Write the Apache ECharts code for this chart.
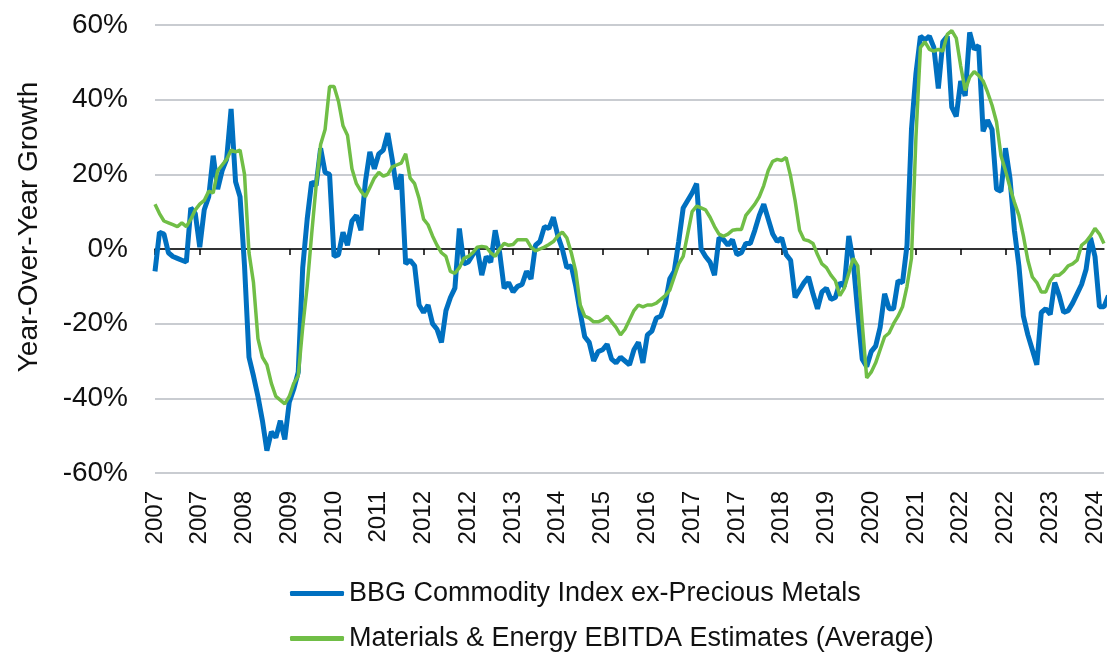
<!DOCTYPE html>
<html>
<head>
    <meta charset="utf-8">
    <title>Commodity Index vs EBITDA Estimates</title>
    <style>
        html, body { margin: 0; padding: 0; background: #fff; }
        #chart { width: 1107px; height: 654px; }
    </style>
</head>
<body>
<div id="chart"></div>
<script src="https://cdn.jsdelivr.net/npm/echarts@6/dist/echarts.min.js"></script>
<script>
    // monthly, Jan 2007 .. Sep 2024
    var startYear = 2007, monthCount = 213;
    var months = [];
    for (var i = 0; i < monthCount; i++) {
        var y = startYear + Math.floor(i / 12), m = i % 12 + 1;
        months.push(y + '-' + (m < 10 ? '0' + m : m));
    }

    var seriesNames = ['BBG Commodity Index ex-Precious Metals', 'Materials & Energy EBITDA Estimates (Average)'];

    // YoY growth, %
    var bbgCommodity = [
        -6, 4.5, 4, -1, -2, -2.5, -3, -3.5, 11, 9.5, 0.5, 10.5,
        14, 25, 16, 21, 24, 37.5, 18, 14, -4.5, -29, -34, -39.5,
        -46, -54, -49, -50.5, -46, -51, -41, -37.5, -33, -5, 8, 18,
        17, 27, 20.5, 20, -2, -1.5, 4.5, 1, 7.5, 9, 5, 18,
        26, 21.5, 25.5, 26.5, 31, 24, 16, 20, -4, -3, -4.5, -15,
        -17, -15, -20, -21.5, -25, -16.5, -13, -10.5, 5.5, -4, -3.5, -1.5,
        0, -7, -2, -3.5, 5, -1, -10.5, -9, -11.5, -10, -9.5, -6,
        -8, 1, 2, 6, 5.5, 8.5, 3.5, 0, -5, -4.5, -10, -17,
        -23.5, -25, -30, -27.5, -27, -25.5, -29.5, -30.5, -29, -30, -31, -27,
        -25, -30.5, -23, -22, -18.5, -18, -14.5, -8, -6, 2, 11, 13,
        15, 17.5, 0, -2, -3.5, -7, 3, 2.5, 1, 2.5, -1.5, -1,
        1.5, 1.5, 5, 9, 12, 8, 4, 2, 3, -1.5, -3, -13,
        -11, -9, -7.5, -12, -16, -11.5, -10.5, -13.5, -13, -9, -10, 3.5,
        -3.5, -17, -29.5, -31.5, -27.5, -26, -21, -12, -16, -16, -8.5, -9,
        1, 32, 47, 57, 56, 57, 54, 43, 55.5, 57, 38, 35.5,
        45, 41, 58, 53.5, 54.5, 31.5, 34.5, 32, 16, 15.5, 27, 19,
        5, -4.5, -18, -23, -27, -31, -17, -16, -17.5, -9, -12.5, -17,
        -16.5, -14.5, -12, -9.5, -5.5, 3, -2, -15.5, -15.5, -12.5
    ];

    var ebitdaEstimates = [
        12, 9.5, 7.5, 7, 6.5, 6, 7, 6, 8, 10.5, 12, 13,
        15.5, 15, 21, 22.5, 24, 26.5, 26, 26.5, 20, -1, -9, -24,
        -29, -31, -36, -39.5, -40.5, -41.5, -39.5, -36, -34, -21, -10, 4,
        17, 28, 32, 43.5, 43.5, 39.5, 33, 30.5, 21.5, 17.5, 15.5, 14,
        16.5, 19, 20.5, 19.5, 20, 22, 22.5, 23, 25.5, 19, 17.5, 13.5,
        8, 6.5, 3.5, 1, -1, -2, -6, -6.5, -5, -2.5, -2, -1,
        0.5, 0.7, 0.5, -1, -2, 0, 1.5, 1, 1.2, 2.5, 2.5, 2.5,
        0.5, -0.5, 0, 0.5, 1.2, 2, 3.5, 4.5, 3, -1, -6, -15,
        -18, -18.5, -19.5, -19.5, -19, -18, -19.5, -21, -23, -21.5, -19, -16.5,
        -15, -15.5, -15, -15, -14.5, -13.5, -12.5, -11, -7.5, -4, -2, 4,
        10, 11.5, 11, 10.5, 8.5, 6, 4, 3.4, 4, 5, 5.2, 5.2,
        9, 10.5, 12, 14, 17, 21, 23.5, 24, 23.7, 24.5, 19.5, 13,
        5, 2.5, 2.2, 1.5, -1.5, -4, -5, -7, -8.5, -12.5, -10.5, -6.5,
        -2.5, -4.5, -20, -34.5, -33, -30.5, -27, -23.5, -22.5, -20, -18, -15.5,
        -10, -2.5, 30, 54, 55.5, 53.5, 53, 53.5, 53, 57.5, 58.5, 56.5,
        49, 42.5, 46, 47.5, 46.5, 45, 42, 38.5, 34, 25, 21, 16.5,
        12.5, 9, 3.5, -3, -7.5, -9, -11.5, -11.5, -8.5, -7, -7, -6,
        -4.5, -4, -3, 1, 2, 3.5, 5.5, 4, 1.5
    ];

    var yTicks = { min: -60, max: 60, step: 20 };

    var font = 'Liberation Sans, Arial, Helvetica, sans-serif';
    var myChart = echarts.init(document.getElementById('chart'));

    var option = {
        animation: false,
        backgroundColor: '#ffffff',
        textStyle: { fontFamily: font, color: '#111' },
        color: ['#0070c0', '#70be46'],
        legend: {
            orient: 'vertical',
            left: 290,
            top: 578,
            padding: 0,
            itemWidth: 54,
            itemHeight: 5,
            itemGap: 14,
            icon: 'roundRect',
            textStyle: { fontFamily: font, fontSize: 27, color: '#111', lineHeight: 31 },
            data: seriesNames
        },
        grid: { left: 155, right: 2, top: 25, bottom: 181, containLabel: false },
        xAxis: [
            {
                type: 'category',
                data: months,
                boundaryGap: false,
                position: 'bottom',
                axisLine: { show: false, onZero: false },
                axisTick: { show: false },
                splitLine: { show: false },
                axisLabel: {
                    interval: 9,
                    rotate: 90,
                    margin: 18,
                    fontSize: 24,
                    color: '#111',
                    fontFamily: font,
                    formatter: function (v) { return v.slice(0, 4); }
                }
            },
            {
                type: 'category',
                data: months,
                boundaryGap: false,
                position: 'bottom',
                axisLine: { show: true, onZero: true, lineStyle: { color: '#000', width: 1.5 } },
                axisTick: { show: true, interval: 9, length: 6, lineStyle: { color: '#000', width: 1.5 } },
                axisLabel: { show: false },
                splitLine: { show: false }
            }
        ],
        yAxis: {
            type: 'value',
            min: yTicks.min,
            max: yTicks.max,
            interval: yTicks.step,
            name: 'Year-Over-Year Growth',
            nameLocation: 'middle',
            nameGap: 112,
            nameTextStyle: { fontFamily: font, fontSize: 28, color: '#111', padding: [0, 0, 0, 44] },
            axisLine: { show: false },
            axisTick: { show: false },
            axisLabel: {
                margin: 27,
                fontSize: 28,
                color: '#111',
                fontFamily: font,
                formatter: '{value}%'
            },
            splitLine: { lineStyle: { color: '#c9ccd1', width: 2 } }
        },
        series: [
            {
                name: seriesNames[0],
                type: 'line',
                data: bbgCommodity,
                showSymbol: false,
                symbol: 'none',
                lineStyle: { width: 5, color: '#0070c0' },
                itemStyle: { color: '#0070c0' }
            },
            {
                name: seriesNames[1],
                type: 'line',
                data: ebitdaEstimates,
                showSymbol: false,
                symbol: 'none',
                lineStyle: { width: 3.5, color: '#70be46' },
                itemStyle: { color: '#70be46' }
            }
        ]
    };
    myChart.setOption(option);
</script>
</body>
</html>
